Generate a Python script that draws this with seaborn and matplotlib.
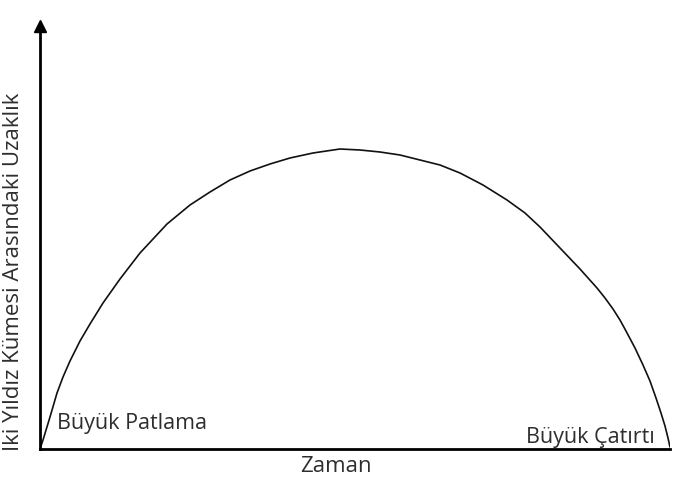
import matplotlib
matplotlib.use("Agg")
import matplotlib.pyplot as plt
import seaborn as sns
import pandas as pd

# Data (arbitrary units: time vs. distance)
zaman = [0, 3, 10, 17, 23, 30, 40, 50, 63, 80, 100, 127, 150, 170, 190, 210,
         230, 250, 273, 300, 320, 340, 360, 380, 400, 420, 443, 467, 485,
         500, 520, 540, 557, 565, 573, 580, 586, 595, 603, 610, 616, 621,
         625, 628, 630]
uzaklik = [0, 9, 32, 56, 72, 88, 108, 125, 146, 170, 196, 225, 244, 257, 269,
           278, 285, 291, 296, 300, 299, 297, 294, 289, 284, 276, 264, 249,
           236, 222, 201, 180, 161, 151, 140, 129, 118, 101, 84, 68, 51, 36,
           23, 11, 2]

xlabel = "Zaman"
ylabel = "İki Yıldız Kümesi Arasındaki Uzaklık"
start_label = "Büyük Patlama"
end_label = "Büyük Çatırtı"

sns.set_style("white")
plt.rcParams["font.family"] = ["Open Sans", "DejaVu Sans"]

W, H = 673, 488
fig = plt.figure(figsize=(W / 100, H / 100), dpi=100)
left, bottom, right, top = 40, 449, 670, 26
ax = fig.add_axes([left / W, (H - bottom) / H, (right - left) / W, (bottom - top) / H])

df = pd.DataFrame({"t": zaman, "d": uzaklik})
sns.lineplot(data=df, x="t", y="d", ax=ax, color="#111111", linewidth=1.2, sort=False)

ax.set_xlim(0, 630)
ax.set_ylim(0, bottom - top)
ax.set_xticks([])
ax.set_yticks([])
ax.set_xlabel("")
ax.set_ylabel("")
for s in ["top", "right"]:
    ax.spines[s].set_visible(False)
for s in ["left", "bottom"]:
    ax.spines[s].set_linewidth(2.0)
    ax.spines[s].set_color("#000000")

# arrow head on the y axis
ax.plot(0, 1, marker="^", color="black", markersize=8,
        transform=ax.get_xaxis_transform(), clip_on=False)

tc = "#2e2e2e"
fig.text(14 / W, (H - 272) / H, ylabel, rotation=90, ha="center", va="center",
         fontsize=16, color=tc)
fig.text(336 / W, (H - 467) / H, xlabel, ha="center", va="center", fontsize=16, color=tc)
fig.text(57 / W, (H - 424) / H, start_label, ha="left", va="center", fontsize=15.5, color=tc)
fig.text(655 / W, (H - 437) / H, end_label, ha="right", va="center", fontsize=15.5, color=tc)

fig.savefig("out.png", dpi=100, facecolor="white")
